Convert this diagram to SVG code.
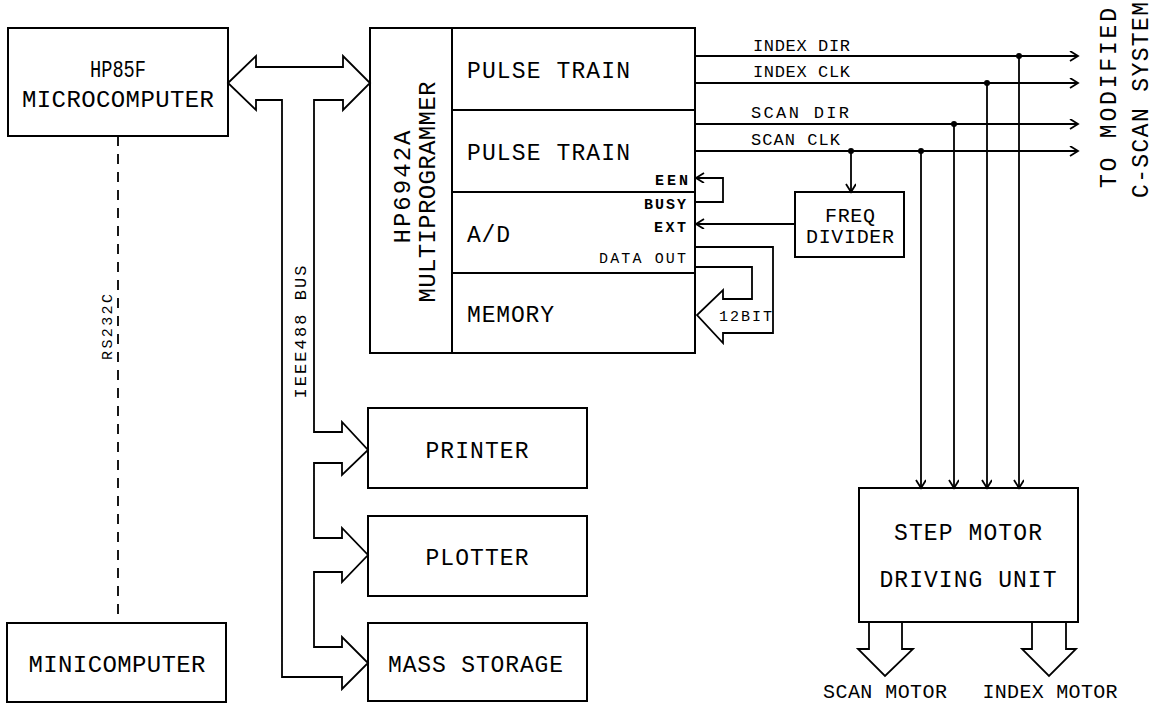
<svg xmlns="http://www.w3.org/2000/svg" width="1163" height="703" viewBox="0 0 1163 703">
<defs>
<style>
.box{fill:none;stroke:#000;stroke-width:2}
.ln{fill:none;stroke:#000;stroke-width:1.8}
.t{font-family:"Liberation Mono","DejaVu Sans Mono",monospace;fill:#000}
.big{font-size:24px}
.mid{font-size:23px}
.md2{font-size:20px}
.sm{font-size:15px}
.lbl{font-size:17px}
</style>
<marker id="ah" markerUnits="userSpaceOnUse" markerWidth="12" markerHeight="12" refX="9" refY="5" orient="auto">
<path d="M1,0 L9,5 L1,10" fill="none" stroke="#000" stroke-width="1.8"/>
</marker>
</defs>
<rect width="1163" height="703" fill="#fff"/>

<g id="hp85f">
<rect class="box" x="8" y="28" width="220" height="108"/>
<text class="t big" x="118" y="77" text-anchor="middle" textLength="56" lengthAdjust="spacingAndGlyphs">HP85F</text>
<text class="t big" x="118" y="107" text-anchor="middle" textLength="192" lengthAdjust="spacing">MICROCOMPUTER</text>
</g>

<g id="minicomputer">
<rect class="box" x="7" y="623" width="219" height="79"/>
<text class="t big" x="117" y="672" text-anchor="middle" textLength="177" lengthAdjust="spacing">MINICOMPUTER</text>
</g>

<g id="multiprogrammer">
<rect class="box" x="370" y="28" width="325" height="325"/>
<line class="box" x1="452" y1="28" x2="452" y2="353"/>
<line class="box" x1="452" y1="110" x2="695" y2="110"/>
<line class="box" x1="452" y1="192" x2="695" y2="192"/>
<line class="box" x1="452" y1="273" x2="695" y2="273"/>
<text class="t big" transform="translate(410,187) rotate(-90)" text-anchor="middle" textLength="113" lengthAdjust="spacing">HP6942A</text>
<text class="t big" transform="translate(435,192) rotate(-90)" text-anchor="middle" textLength="221" lengthAdjust="spacing">MULTIPROGRAMMER</text>
<text class="t mid" x="467" y="78" textLength="163" lengthAdjust="spacing">PULSE TRAIN</text>
<text class="t mid" x="467" y="160" textLength="163" lengthAdjust="spacing">PULSE TRAIN</text>
<text class="t mid" x="467" y="242" textLength="43" lengthAdjust="spacing">A/D</text>
<text class="t mid" x="467" y="322" textLength="87" lengthAdjust="spacing">MEMORY</text>
<text class="t sm" x="688" y="185" text-anchor="end" textLength="33" lengthAdjust="spacing" font-weight="bold">EEN</text>
<text class="t sm" x="686" y="209" text-anchor="end" textLength="42" lengthAdjust="spacing" font-weight="bold">BUSY</text>
<text class="t sm" x="686" y="232" text-anchor="end" textLength="32" lengthAdjust="spacing" font-weight="bold">EXT</text>
<text class="t sm" x="686" y="263" text-anchor="end" textLength="87" lengthAdjust="spacing">DATA OUT</text>
</g>

<g id="printer">
<rect class="box" x="368" y="408" width="219" height="80"/>
<text class="t mid" x="477" y="458" text-anchor="middle" textLength="103" lengthAdjust="spacing">PRINTER</text>
</g>
<g id="plotter">
<rect class="box" x="368" y="516" width="219" height="80"/>
<text class="t mid" x="477" y="565" text-anchor="middle" textLength="103" lengthAdjust="spacing">PLOTTER</text>
</g>
<g id="mass-storage">
<rect class="box" x="368" y="623" width="219" height="78"/>
<text class="t mid" x="388" y="672" textLength="175" lengthAdjust="spacing">MASS STORAGE</text>
</g>

<g id="freq-divider">
<rect class="box" x="795" y="192" width="109" height="65"/>
<text class="t md2" x="850" y="222" text-anchor="middle" textLength="50" lengthAdjust="spacing">FREQ</text>
<text class="t md2" x="850" y="243" text-anchor="middle" textLength="88" lengthAdjust="spacing">DIVIDER</text>
</g>

<g id="step-motor">
<rect class="box" x="859" y="488" width="219" height="134"/>
<text class="t mid" x="968" y="540" text-anchor="middle" textLength="148" lengthAdjust="spacing">STEP MOTOR</text>
<text class="t mid" x="968" y="587" text-anchor="middle" textLength="177" lengthAdjust="spacing">DRIVING UNIT</text>
</g>

<g id="connectors">
<path class="ln" d="M228,83 L256,56 L256,67 L343,67 L343,56 L370,83 L343,110 L343,100 L314,100 L314,432 L342,432 L342,422 L368,450 L342,475 L342,463 L314,463 L314,538 L342,538 L342,528 L368,555 L342,582 L342,572 L314,572 L314,647 L342,647 L342,637 L368,663 L342,689 L342,677 L282,677 L282,100 L256,100 L256,110 Z"/>
<text class="t lbl" transform="translate(306,332) rotate(-90)" text-anchor="middle" textLength="133" lengthAdjust="spacing">IEEE488 BUS</text>
<line class="ln" x1="118" y1="136" x2="118" y2="623" stroke-dasharray="10,8"/>
<text class="t sm" transform="translate(112,327) rotate(-90)" text-anchor="middle" textLength="66" lengthAdjust="spacing">RS232C</text>
<line class="ln" x1="695" y1="56" x2="1078" y2="56" marker-end="url(#ah)"/>
<line class="ln" x1="695" y1="83" x2="1078" y2="83" marker-end="url(#ah)"/>
<line class="ln" x1="695" y1="124" x2="1078" y2="124" marker-end="url(#ah)"/>
<line class="ln" x1="695" y1="151" x2="1078" y2="151" marker-end="url(#ah)"/>
<text class="t lbl" x="753" y="51" textLength="97" lengthAdjust="spacing">INDEX DIR</text>
<text class="t lbl" x="753" y="77" textLength="97" lengthAdjust="spacing">INDEX CLK</text>
<text class="t lbl" x="751" y="118" textLength="98" lengthAdjust="spacing">SCAN DIR</text>
<text class="t lbl" x="751" y="145" textLength="89" lengthAdjust="spacing">SCAN CLK</text>
<line class="ln" x1="1019" y1="56" x2="1019" y2="488" marker-end="url(#ah)"/>
<line class="ln" x1="987" y1="83" x2="987" y2="488" marker-end="url(#ah)"/>
<line class="ln" x1="954" y1="124" x2="954" y2="488" marker-end="url(#ah)"/>
<line class="ln" x1="921" y1="151" x2="921" y2="488" marker-end="url(#ah)"/>
<circle cx="1019" cy="56" r="3"/>
<circle cx="987" cy="83" r="3"/>
<circle cx="954" cy="124" r="3"/>
<circle cx="921" cy="151" r="3"/>
<line class="ln" x1="851" y1="151" x2="851" y2="192" marker-end="url(#ah)"/>
<circle cx="851" cy="151" r="3"/>
<line class="ln" x1="795" y1="224" x2="696" y2="224" marker-end="url(#ah)"/>
<path class="ln" d="M695,202 L723,202 L723,178 L696,178" marker-end="url(#ah)"/>
<path class="ln" d="M695,247 L773,247 L773,333 L723,333 L723,343 L697,315 L723,290 L723,299 L752,299 L752,267 L695,267"/>
<text class="t sm" x="719" y="321" textLength="53" lengthAdjust="spacing">12BIT</text>
<path class="ln" d="M869,622 L869,649 L858,649 L885,676 L913,649 L902,649 L902,622"/>
<path class="ln" d="M1032,622 L1032,649 L1022,649 L1049,676 L1076,649 L1066,649 L1066,622"/>
<text class="t md2" x="885" y="698" text-anchor="middle" textLength="124" lengthAdjust="spacing">SCAN MOTOR</text>
<text class="t md2" x="1050" y="698" text-anchor="middle" textLength="135" lengthAdjust="spacing">INDEX MOTOR</text>
<text class="t mid" transform="translate(1116,98) rotate(-90)" text-anchor="middle" textLength="180" lengthAdjust="spacing">TO MODIFIED</text>
<text class="t mid" transform="translate(1148,100) rotate(-90)" text-anchor="middle" textLength="196" lengthAdjust="spacing">C-SCAN SYSTEM</text>
</g>
</svg>
